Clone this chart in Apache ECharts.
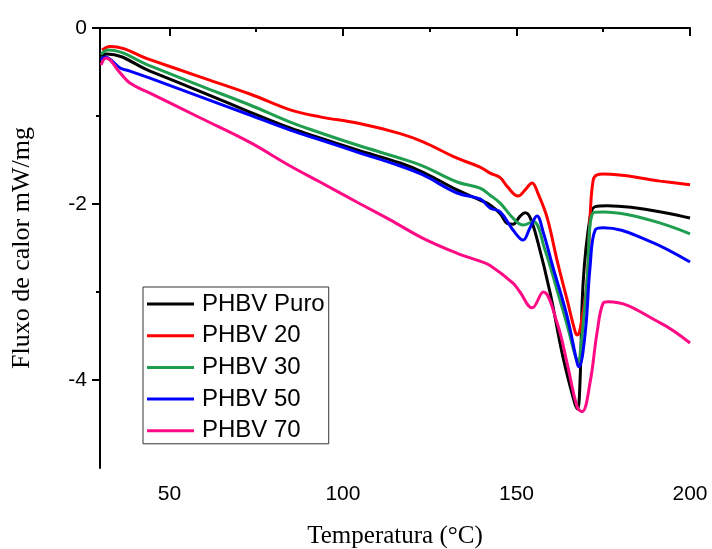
<!DOCTYPE html>
<html><head><meta charset="utf-8">
<script src="https://cdn.jsdelivr.net/npm/echarts@6/dist/echarts.min.js"></script>
<style>html,body{margin:0;padding:0;background:#fff}#c{width:712px;height:549px}</style>
</head><body><div id="c"></div>
<script>
const seriesNames = ['PHBV Puro', 'PHBV 20', 'PHBV 30', 'PHBV 50', 'PHBV 70'];
const seriesColors = ['#000000', '#ff0000', '#1f9e4f', '#0000ff', '#ff0a85'];

const phbvPuro = [[30.3,-0.32],[32.0,-0.295],[44.4,-0.49],[58.8,-0.72],[73.2,-0.955],[84.8,-1.136],[93.4,-1.25],[104.1,-1.386],[116.5,-1.534],[123.1,-1.64],[132.9,-1.84],[139.5,-1.955],[142.4,-2.01],[145.3,-2.11],[147.3,-2.22],[149.0,-2.23],[151.0,-2.14],[152.5,-2.10],[154.0,-2.16],[156.2,-2.44],[159.7,-3.01],[163.4,-3.74],[166.9,-4.28],[167.6,-4.33],[168.3,-4.03],[169.2,-2.90],[171.2,-2.15],[172.7,-2.03],[176.1,-2.02],[200.0,-2.16]];
const phbv20 = [[30.6,-0.25],[32.9,-0.21],[44.4,-0.36],[58.8,-0.555],[73.2,-0.75],[84.8,-0.93],[93.4,-1.01],[104.1,-1.08],[116.5,-1.20],[123.1,-1.295],[132.9,-1.48],[139.5,-1.58],[142.4,-1.65],[145.3,-1.70],[147.3,-1.80],[150.5,-1.91],[152.5,-1.84],[154.5,-1.76],[156.2,-1.88],[158.8,-2.15],[161.7,-2.64],[164.6,-3.09],[166.9,-3.45],[167.5,-3.49],[168.3,-3.43],[170.3,-2.90],[171.2,-2.15],[172.1,-1.73],[173.2,-1.67],[175.0,-1.66],[191.4,-1.74],[200.0,-1.78]];
const phbv30 = [[30.3,-0.30],[32.3,-0.25],[44.4,-0.43],[58.8,-0.655],[73.2,-0.875],[84.8,-1.07],[93.4,-1.19],[104.1,-1.33],[116.5,-1.48],[123.1,-1.57],[132.9,-1.75],[139.5,-1.82],[142.4,-1.90],[145.3,-1.99],[149.0,-2.16],[151.9,-2.24],[154.8,-2.20],[158.2,-2.52],[161.7,-2.98],[164.6,-3.375],[166.9,-3.72],[167.8,-3.795],[168.6,-3.60],[170.3,-2.90],[172.1,-2.10],[175.0,-2.09],[200.0,-2.34]];
const phbv50 = [[30.3,-0.364],[31.4,-0.33],[35.8,-0.455],[38.6,-0.49],[44.4,-0.57],[58.8,-0.78],[73.2,-0.989],[84.8,-1.16],[93.4,-1.27],[104.1,-1.41],[116.5,-1.568],[123.1,-1.67],[132.9,-1.875],[139.5,-1.943],[142.4,-2.045],[145.3,-2.09],[149.0,-2.295],[151.9,-2.41],[153.9,-2.27],[155.9,-2.136],[157.7,-2.32],[160.5,-2.716],[164.6,-3.28],[167.5,-3.81],[168.0,-3.85],[169.8,-3.466],[171.2,-2.716],[172.7,-2.295],[175.0,-2.27],[187.6,-2.41],[200.0,-2.66]];
const phbv70 = [[30.3,-0.42],[31.7,-0.34],[35.8,-0.51],[38.6,-0.625],[44.4,-0.74],[58.8,-1.02],[73.2,-1.30],[84.8,-1.568],[93.4,-1.75],[104.1,-1.98],[113.6,-2.18],[123.1,-2.39],[132.9,-2.56],[139.5,-2.65],[142.4,-2.70],[149.0,-2.90],[151.0,-3.00],[154.5,-3.18],[157.7,-3.00],[161.7,-3.35],[164.6,-3.81],[167.5,-4.307],[168.9,-4.36],[171.2,-4.03],[173.2,-3.466],[175.0,-3.125],[176.4,-3.11],[191.4,-3.35],[200.0,-3.58]];
const allData = [phbvPuro, phbv20, phbv30, phbv50, phbv70];

const xMajorTicks = [50, 100, 150, 200];
const xMinorTicks = [75, 125, 175];
const yMajorTicks = [0, -2, -4];
const yMinorTicks = [-1, -3];

const chart = echarts.init(document.getElementById('c'), null, {renderer: 'canvas'});
const tickFont = 'Liberation Sans, Arial, sans-serif';
const nameFont = 'Liberation Serif, Times New Roman, serif';
const axisLineStyle = {color: '#000', width: 2};

chart.setOption({
  animation: false,
  backgroundColor: '#fff',
  grid: {left: 100, top: 28, width: 590, height: 440, containLabel: false, outerBoundsMode: 'none'},
  legend: {
    data: seriesNames,
    orient: 'vertical',
    left: 143, top: 287,
    icon: 'path://M0,0 L47,0 L47,3 L0,3 Z',
    itemWidth: 47, itemHeight: 22, itemGap: 7.7,
    padding: [5, 4, 1, 4],
    borderColor: '#333', borderWidth: 1,
    textStyle: {fontFamily: tickFont, fontSize: 24, color: '#000', padding: [0, 0, 0, 3]}
  },
  xAxis: [{
    type: 'value', min: 30, max: 200, position: 'bottom',
    name: 'Temperatura (°C)', nameLocation: 'middle', nameGap: 56,
    nameTextStyle: {fontFamily: nameFont, fontSize: 25, color: '#000'},
    axisLine: {show: true, lineStyle: axisLineStyle},
    axisTick: {show: true, inside: false, length: 8, lineStyle: axisLineStyle, customValues: xMajorTicks},
    axisLabel: {show: true, fontFamily: tickFont, fontSize: 21, color: '#000', margin: 16, customValues: xMajorTicks},
    splitLine: {show: false}
  }, {
    type: 'value', min: 30, max: 200, position: 'bottom',
    axisLine: {show: false},
    axisTick: {show: true, inside: false, length: 4, lineStyle: axisLineStyle, customValues: xMinorTicks},
    axisLabel: {show: false},
    splitLine: {show: false}
  }],
  yAxis: [{
    type: 'value', min: -5, max: 0, position: 'left',
    name: 'Fluxo de calor mW/mg', nameLocation: 'middle', nameGap: 65,
    nameTextStyle: {fontFamily: nameFont, fontSize: 26, color: '#000'},
    axisLine: {show: true, lineStyle: axisLineStyle},
    axisTick: {show: true, inside: false, length: 8, lineStyle: axisLineStyle, customValues: yMajorTicks},
    axisLabel: {show: true, fontFamily: tickFont, fontSize: 21, color: '#000', margin: 13, customValues: yMajorTicks, formatter: v => String(v)},
    splitLine: {show: false}
  }, {
    type: 'value', min: -5, max: 0, position: 'left',
    axisLine: {show: false},
    axisTick: {show: true, inside: false, length: 4, lineStyle: axisLineStyle, customValues: yMinorTicks},
    axisLabel: {show: false},
    splitLine: {show: false}
  }],
  series: seriesNames.map((name, i) => ({
    name: name,
    type: 'line',
    xAxisIndex: 0, yAxisIndex: 0,
    data: allData[i],
    smooth: 0.4,
    symbol: 'none',
    lineStyle: {color: seriesColors[i], width: 3},
    itemStyle: {color: seriesColors[i]},
    z: 2 + i
  }))
});
</script></body></html>
